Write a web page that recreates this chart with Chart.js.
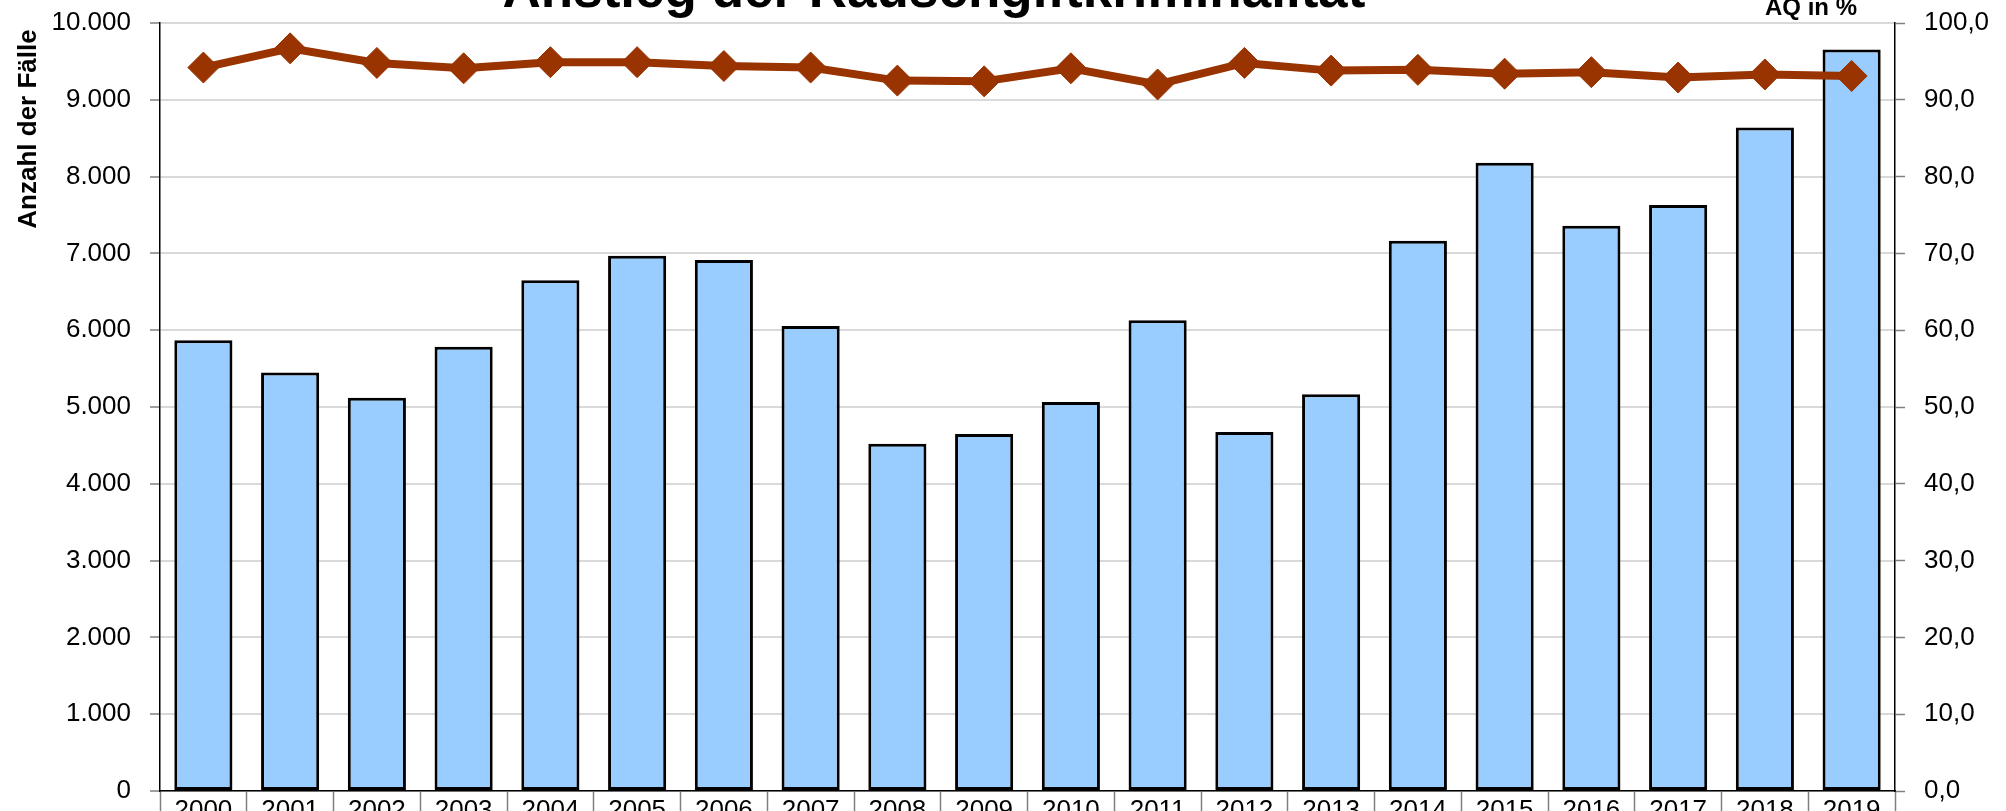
<!DOCTYPE html>
<html>
<head>
<meta charset="utf-8">
<script src="https://cdn.jsdelivr.net/npm/chart.js@4"></script>
<style>
  body { margin: 0; background: #fff; }
  canvas { display: block; }
</style>
</head>
<body>
<canvas id="myChart" width="2006" height="811"></canvas>
<script>
// ********
// * Data *
// ********
const years = ['2000', '2001', '2002', '2003', '2004', '2005', '2006', '2007', '2008', '2009',
    '2010', '2011', '2012', '2013', '2014', '2015', '2016', '2017', '2018', '2019'];

const cases = [5870, 5450, 5120, 5785, 6650, 6970, 6915, 6055, 4520, 4650,
    5065, 6130, 4675, 5165, 7165, 8180, 7360, 7630, 8640, 9655];

const clearanceRate = [94.2, 96.7, 94.8, 94.1, 94.9, 94.9, 94.4, 94.2, 92.5, 92.4,
    94.1, 92.0, 94.8, 93.8, 93.9, 93.4, 93.6, 92.9, 93.3, 93.1];

const chartTitle = 'Anstieg der Rauschgiftkriminalität';
const leftAxisTitle = 'Anzahl der Fälle';
const rightAxisTitle = 'AQ in %';

// **********
// * Charts *
// **********
const sans = "'Liberation Sans', Arial, sans-serif";
const ctx = document.getElementById('myChart').getContext('2d');

// titles are partly cut off at the top edge, so they are drawn by hand
const textPlugin = {
    id: 'extraText',
    afterDraw(chart) {
        const c = chart.ctx;
        c.save();
        c.fillStyle = '#000';
        c.textBaseline = 'alphabetic';

        c.font = 'bold 53px ' + sans;
        c.textAlign = 'center';
        c.fillText(chartTitle, 934, 7);

        c.font = 'bold 24px ' + sans;
        c.fillText(rightAxisTitle, 1811, 15);

        c.font = 'bold 26px ' + sans;
        c.translate(36, 129);
        c.rotate(-Math.PI / 2);
        c.fillText(leftAxisTitle, 0, 0);
        c.restore();
    }
};

// keep the plot area where the reference has it
function fixWidth(w) {
    return scale => {
        scale.width = w;
        scale.paddingTop = 0;
        scale.paddingBottom = 0;
    };
}

const config = {
    data: {
        labels: years,
        datasets: [{
            type: 'line',
            label: 'AQ',
            data: clearanceRate,
            yAxisID: 'y1',
            borderColor: '#993300',
            backgroundColor: '#993300',
            borderWidth: 8,
            pointStyle: 'rectRot',
            pointRadius: 15.5,
            pointBorderWidth: 1,
            tension: 0,
            order: 0
        }, {
            type: 'bar',
            label: 'Fälle',
            data: cases,
            yAxisID: 'y',
            backgroundColor: '#99CCFF',
            borderColor: '#000000',
            borderWidth: 3,
            borderSkipped: false,
            categoryPercentage: 1,
            barPercentage: 0.67,
            order: 1
        }]
    },
    options: {
        responsive: false,
        animation: false,
        devicePixelRatio: 1,
        layout: { padding: { top: 23, left: 0, right: 0, bottom: 0 } },
        plugins: {
            legend: { display: false },
            title: { display: false },
            tooltip: { enabled: false }
        },
        scales: {
            x: {
                grid: {
                    offset: true,
                    drawOnChartArea: false,
                    drawTicks: true,
                    tickLength: 20,
                    tickColor: '#808080',
                    tickWidth: 1.5
                },
                border: { color: '#000', width: 1.5 },
                ticks: {
                    color: '#000',
                    font: { family: sans, size: 26 },
                    padding: -16,
                    maxRotation: 0,
                    autoSkip: false
                },
                afterFit(scale) {
                    scale.height = 20;
                    scale.paddingLeft = 0;
                    scale.paddingRight = 0;
                }
            },
            y: {
                position: 'left',
                min: 0,
                max: 10000,
                grid: {
                    color: '#D9D9D9',
                    lineWidth: 2,
                    tickLength: 10,
                    tickColor: '#808080',
                    tickWidth: 1.5
                },
                border: { color: '#000', width: 1.5 },
                ticks: {
                    stepSize: 1000,
                    color: '#000',
                    padding: 19,
                    font: { family: sans, size: 26 },
                    callback: v => v.toLocaleString('de-DE')
                },
                afterFit: fixWidth(160)
            },
            y1: {
                position: 'right',
                min: 0,
                max: 100,
                grid: {
                    drawOnChartArea: false,
                    tickLength: 10,
                    tickColor: '#808080',
                    tickWidth: 1.5
                },
                border: { color: '#000', width: 1.5 },
                ticks: {
                    stepSize: 10,
                    color: '#000',
                    padding: 19,
                    font: { family: sans, size: 26 },
                    callback: v => v.toFixed(1).replace('.', ',')
                },
                afterFit: fixWidth(111)
            }
        }
    },
    plugins: [textPlugin]
};

const myChart = new Chart(ctx, config);
</script>
</body>
</html>
